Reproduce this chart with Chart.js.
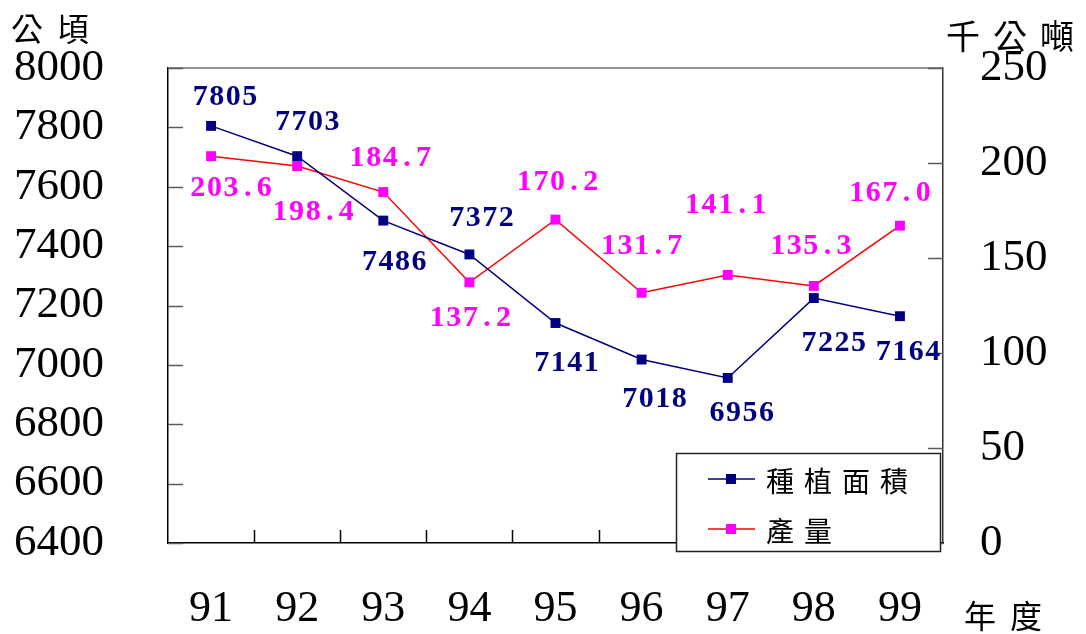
<!DOCTYPE html>
<html>
<head>
<meta charset="utf-8">
<script src="https://cdn.jsdelivr.net/npm/chart.js@4.4.0/dist/chart.umd.min.js"></script>
<style>
  html, body { margin: 0; padding: 0; background: #fff; }
  #wrap { width: 1086px; height: 634px; }
</style>
</head>
<body>
<div id="wrap"><canvas id="cropChart" width="1086" height="634"></canvas></div>
<script>
// data
const years = ["91", "92", "93", "94", "95", "96", "97", "98", "99"];
const areaValues = [7805, 7703, 7486, 7372, 7141, 7018, 6956, 7225, 7164];
const outputValues = [203.6, 198.4, 184.7, 137.2, 170.2, 131.7, 141.1, 135.3, 167.0];
const areaTicks = [6400, 8000, 200];
const outputTicks = [0, 250, 50];

// where each value label sits relative to its marker
const areaLabelShift = [[14, -29], [10, -34], [11, 42], [12, -36], [11, 40], [13, 40], [14, 35], [20, 45], [8, 36]];
const outputLabelShift = [[20, 32], [16, 46], [7, -34], [1, 36], [2, -37], [0, -47], [-2, -70], [-3, -40], [-10, -32]];

const NAVY = "#000080";
const PINK = "#FF00FF";
const RED = "#FF0000";
const SERIF = "'Liberation Serif', 'DejaVu Serif', serif";
const CJK = "'Noto Sans CJK TC', 'Noto Sans CJK SC', sans-serif";

// fixed-width text, like the original's label font
function spacedText(ctx, text, cx, cy, advance) {
  const chars = text.split("");
  let x = cx - (chars.length * advance) / 2 + advance / 2;
  chars.forEach(function (ch) {
    ctx.fillText(ch, x, cy);
    x += advance;
  });
}

const valueLabels = {
  id: "valueLabels",
  afterDatasetsDraw(chart) {
    const ctx = chart.ctx;
    ctx.save();
    ctx.textAlign = "center";
    ctx.textBaseline = "middle";
    chart.getDatasetMeta(0).data.forEach(function (pt, i) {
      ctx.fillStyle = NAVY;
      ctx.font = "bold 30px " + SERIF;
      spacedText(ctx, String(areaValues[i]), pt.x + areaLabelShift[i][0], pt.y + areaLabelShift[i][1], 16.5);
    });
    chart.getDatasetMeta(1).data.forEach(function (pt, i) {
      ctx.fillStyle = PINK;
      ctx.font = "bold 30px " + SERIF;
      spacedText(ctx, outputValues[i].toFixed(1), pt.x + outputLabelShift[i][0], pt.y + outputLabelShift[i][1], 16.6);
    });
    ctx.restore();
  },
};

// inward tick marks, top border, axis titles and the boxed legend
const frame = {
  id: "frame",
  beforeDatasetsDraw(chart) {
    const ctx = chart.ctx;
    const a = chart.chartArea;
    const sx = chart.scales.x;
    const sy = chart.scales.y;
    const sy1 = chart.scales.y1;
    ctx.save();
    ctx.lineWidth = 1.5;
    ctx.strokeStyle = "#6b6b6b";
    ctx.beginPath();
    ctx.moveTo(a.left, a.top);
    ctx.lineTo(a.right, a.top);
    ctx.stroke();

    ctx.strokeStyle = "#5a5a5a";
    sy.ticks.forEach(function (t) {
      const y = Math.round(sy.getPixelForValue(t.value)) + 0.5;
      ctx.beginPath();
      ctx.moveTo(a.left, y);
      ctx.lineTo(a.left + 15, y);
      ctx.stroke();
    });
    sy1.ticks.forEach(function (t) {
      const y = Math.round(sy1.getPixelForValue(t.value)) + 0.5;
      ctx.beginPath();
      ctx.moveTo(a.right, y);
      ctx.lineTo(a.right - 15, y);
      ctx.stroke();
    });
    ctx.strokeStyle = "#000";
    const half = (sx.getPixelForValue(1) - sx.getPixelForValue(0)) / 2;
    for (let i = 1; i < years.length; i++) {
      const x = Math.round(sx.getPixelForValue(i) - half) + 0.5;
      ctx.beginPath();
      ctx.moveTo(x, a.bottom);
      ctx.lineTo(x, a.bottom - 13);
      ctx.stroke();
    }
    ctx.restore();
  },
  afterDraw(chart) {
    const ctx = chart.ctx;
    ctx.save();
    ctx.fillStyle = "#000";
    ctx.textBaseline = "middle";
    ctx.textAlign = "left";
    ctx.letterSpacing = "14px";
    ctx.font = "32px " + CJK;
    ctx.fillText("公頃", 11, 29);
    ctx.letterSpacing = "13px";
    ctx.font = "34px " + CJK;
    ctx.fillText("千公噸", 946, 36);
    ctx.letterSpacing = "14px";
    ctx.font = "32px " + CJK;
    ctx.fillText("年度", 964, 616);

    // legend box
    const bx = 676, by = 453, bw = 264, bh = 98;
    ctx.letterSpacing = "0px";
    ctx.fillStyle = "#fff";
    ctx.fillRect(bx, by, bw, bh);
    ctx.lineWidth = 1.5;
    ctx.strokeStyle = "#222";
    ctx.strokeRect(bx + 0.5, by + 0.5, bw, bh);

    const items = chart.data.datasets;
    const rows = [479, 529];
    items.forEach(function (ds, i) {
      const y = rows[i];
      ctx.strokeStyle = ds.borderColor;
      ctx.lineWidth = 1.5;
      ctx.beginPath();
      ctx.moveTo(708, y);
      ctx.lineTo(755, y);
      ctx.stroke();
      ctx.fillStyle = ds.pointBackgroundColor;
      ctx.fillRect(726, y - 5, 10, 10);
      ctx.fillStyle = "#000";
      ctx.font = "28px " + CJK;
      ctx.letterSpacing = "10px";
      ctx.fillText(ds.label, 766, y + 2);
      ctx.letterSpacing = "0px";
    });
    ctx.restore();
  },
};

const plainTick = function (v) { return String(v); };
const noOverhang = function (s) { s.paddingTop = 0; s.paddingBottom = 0; s.paddingLeft = 0; s.paddingRight = 0; };

new Chart(document.getElementById("cropChart").getContext("2d"), {
  type: "line",
  data: {
    labels: years,
    datasets: [
      {
        label: "種植面積",
        data: areaValues,
        yAxisID: "y",
        borderColor: NAVY,
        borderWidth: 1.5,
        pointStyle: "rect",
        pointRadius: 7,
        pointBackgroundColor: NAVY,
        pointBorderWidth: 0,
        tension: 0,
      },
      {
        label: "產量",
        data: outputValues,
        yAxisID: "y1",
        borderColor: RED,
        borderWidth: 1.5,
        pointStyle: "rect",
        pointRadius: 7,
        pointBackgroundColor: PINK,
        pointBorderWidth: 0,
        tension: 0,
      },
    ],
  },
  options: {
    responsive: false,
    animation: false,
    layout: { padding: { top: 68, left: 0, right: 0, bottom: 0 } },
    plugins: {
      legend: { display: false },
      tooltip: { enabled: false },
    },
    scales: {
      x: {
        offset: true,
        grid: { display: false, drawTicks: false },
        border: { display: true, color: "#000", width: 1.5 },
        ticks: { color: "#000", font: { family: SERIF, size: 44 }, padding: 40, maxRotation: 0 },
        afterFit: function (s) { s.height = 91; noOverhang(s); },
      },
      y: {
        position: "left",
        min: areaTicks[0],
        max: areaTicks[1],
        grid: { drawOnChartArea: false, drawTicks: false },
        border: { display: true, color: "#000", width: 1.5 },
        ticks: { stepSize: areaTicks[2], color: "#000", font: { family: SERIF, size: 45 }, padding: 64, callback: plainTick },
        afterFit: function (s) { s.width = 168; noOverhang(s); },
      },
      y1: {
        position: "right",
        min: outputTicks[0],
        max: outputTicks[1],
        grid: { drawOnChartArea: false, drawTicks: false },
        border: { display: true, color: "#333", width: 1.5 },
        ticks: { stepSize: outputTicks[2], color: "#000", font: { family: SERIF, size: 45 }, padding: 37, callback: plainTick },
        afterFit: function (s) { s.width = 143; noOverhang(s); },
      },
    },
  },
  plugins: [frame, valueLabels],
});
</script>
</body>
</html>
